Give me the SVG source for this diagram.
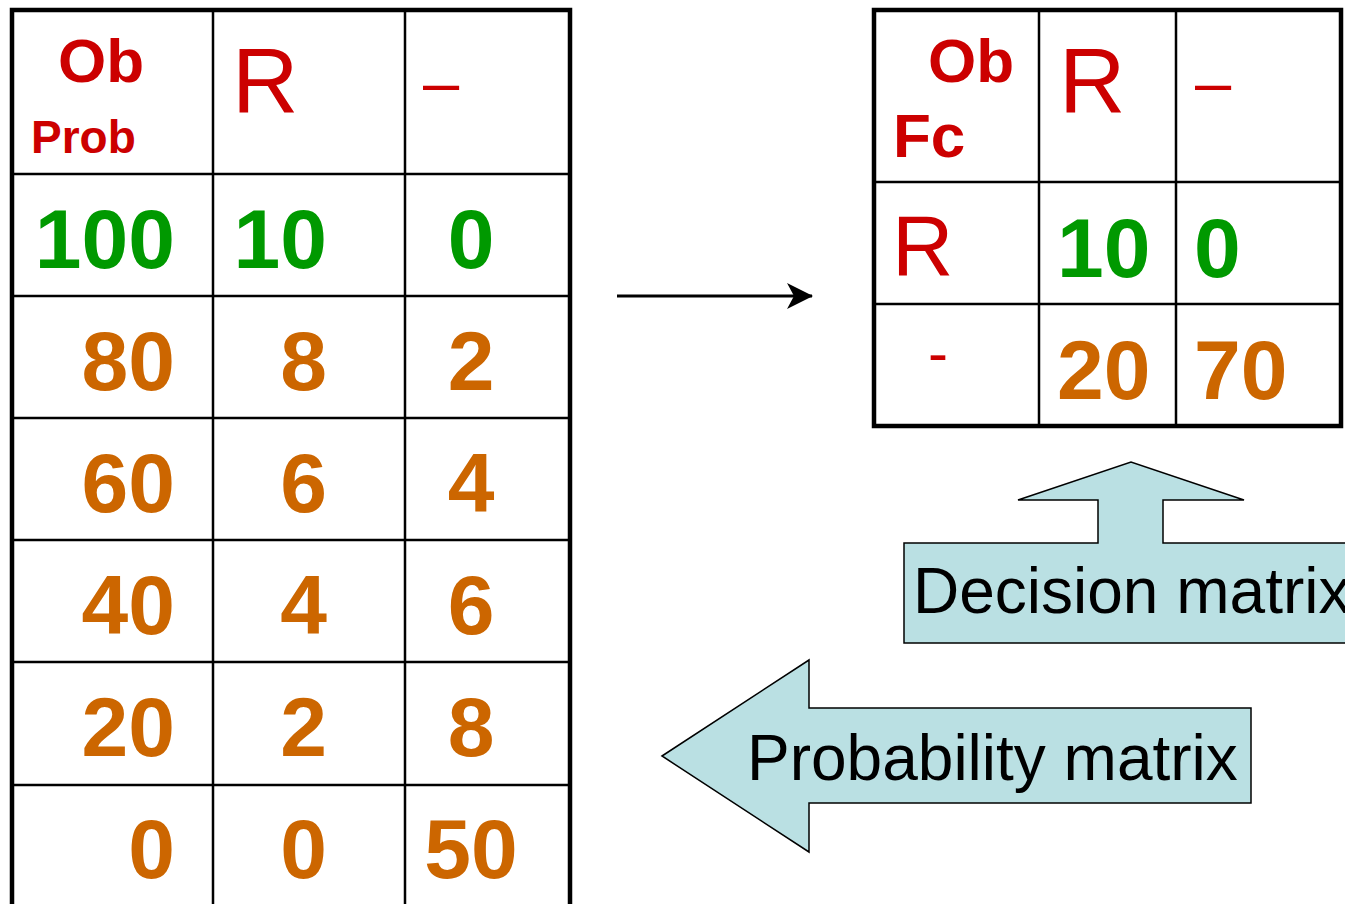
<svg xmlns="http://www.w3.org/2000/svg" width="1345" height="904" viewBox="0 0 1345 904">
<defs>
<style>
.outer{fill:none;stroke:#000;stroke-width:4.5}
.inner{stroke:#000;stroke-width:2.5}
.hd{font-family:"Liberation Sans",Arial,sans-serif;fill:#CC0000}
.b{font-weight:bold}
.num{font-family:"Liberation Sans",Arial,sans-serif;font-weight:bold;font-size:84px}
.g{fill:#009900}
.o{fill:#CC6600}
.shape{fill:#BAE0E3;stroke:#000;stroke-width:1.5}
.lbl{font-family:"Liberation Sans",Arial,sans-serif;font-size:64px;fill:#000}
</style>
<marker id="ah" viewBox="0 0 26 26" refX="25" refY="13" markerWidth="26" markerHeight="26" markerUnits="userSpaceOnUse" orient="auto">
<path d="M0,0 L26,13 L0,26 L7,13 Z" fill="#000"/>
</marker>
</defs>
<rect width="1345" height="904" fill="#fff"/>

<g id="probability-table">
<path class="outer" d="M12,906 V10 H570 V906"/>
<line class="inner" x1="213" y1="10" x2="213" y2="906"/>
<line class="inner" x1="405" y1="10" x2="405" y2="906"/>
<line class="inner" x1="12" y1="174" x2="570" y2="174"/>
<line class="inner" x1="12" y1="296" x2="570" y2="296"/>
<line class="inner" x1="12" y1="418" x2="570" y2="418"/>
<line class="inner" x1="12" y1="540" x2="570" y2="540"/>
<line class="inner" x1="12" y1="662" x2="570" y2="662"/>
<line class="inner" x1="12" y1="785" x2="570" y2="785"/>
<text class="hd b" x="58" y="82" font-size="62">Ob</text>
<text class="hd b" x="31" y="153" font-size="46">Prob</text>
<text class="hd" x="232" y="113" font-size="92">R</text>
<text class="hd" x="423" y="104" font-size="65">–</text>
<g class="num">
<text class="g" x="175" y="268" text-anchor="end">100</text>
<text class="g" x="327" y="268" text-anchor="end">10</text>
<text class="g" x="471" y="268" text-anchor="middle">0</text>
<text class="o" x="175" y="390" text-anchor="end">80</text>
<text class="o" x="327" y="390" text-anchor="end">8</text>
<text class="o" x="471" y="390" text-anchor="middle">2</text>
<text class="o" x="175" y="512" text-anchor="end">60</text>
<text class="o" x="327" y="512" text-anchor="end">6</text>
<text class="o" x="471" y="512" text-anchor="middle">4</text>
<text class="o" x="175" y="634" text-anchor="end">40</text>
<text class="o" x="327" y="634" text-anchor="end">4</text>
<text class="o" x="471" y="634" text-anchor="middle">6</text>
<text class="o" x="175" y="756" text-anchor="end">20</text>
<text class="o" x="327" y="756" text-anchor="end">2</text>
<text class="o" x="471" y="756" text-anchor="middle">8</text>
<text class="o" x="175" y="878" text-anchor="end">0</text>
<text class="o" x="327" y="878" text-anchor="end">0</text>
<text class="o" x="471" y="878" text-anchor="middle">50</text>
</g>
</g>

<g id="decision-table">
<rect class="outer" x="874" y="10" width="467" height="416"/>
<line class="inner" x1="1039" y1="10" x2="1039" y2="426"/>
<line class="inner" x1="1176" y1="10" x2="1176" y2="426"/>
<line class="inner" x1="874" y1="182" x2="1341" y2="182"/>
<line class="inner" x1="874" y1="304" x2="1341" y2="304"/>
<text class="hd b" x="928" y="82" font-size="62">Ob</text>
<text class="hd b" x="893" y="157" font-size="62">Fc</text>
<text class="hd" x="1059" y="113" font-size="92">R</text>
<text class="hd" x="1195" y="104" font-size="65">–</text>
<text class="hd" x="892" y="275" font-size="85">R</text>
<text class="hd" x="928" y="373" font-size="60">-</text>
<g class="num">
<text class="g" x="1057" y="277">10</text>
<text class="g" x="1194" y="277">0</text>
<text class="o" x="1057" y="399">20</text>
<text class="o" x="1194" y="399">70</text>
</g>
</g>

<g id="connectors">
<line x1="617" y1="296" x2="812" y2="296" stroke="#000" stroke-width="3" marker-end="url(#ah)"/>
</g>

<g id="decision-matrix">
<path class="shape" d="M904,643 V543 H1098 V500 H1018 L1131,462 L1244,500 H1163 V543 H1350 V643 Z"/>
<text class="lbl" x="913" y="613">Decision matrix</text>
</g>

<g id="probability-matrix">
<path class="shape" d="M662,756 L809,660 V708 H1251 V803 H809 V852 Z"/>
<text class="lbl" x="747" y="780">Probability matrix</text>
</g>
</svg>
